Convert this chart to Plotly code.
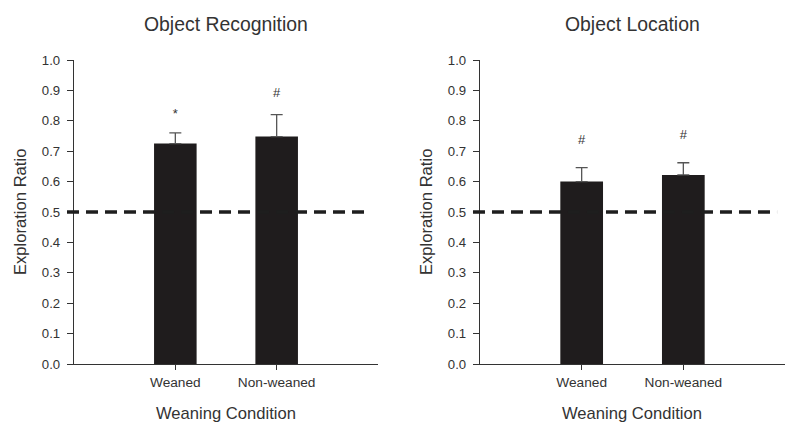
import plotly.graph_objects as go

categories = ["Weaned", "Non-weaned"]
recog_means = [0.725, 0.748]
recog_sem = [0.035, 0.072]
recog_marks = ["*", "#"]
recog_mark_y = [0.82, 0.89]

loc_means = [0.600, 0.622]
loc_sem = [0.046, 0.040]
loc_marks = ["#", "#"]
loc_mark_y = [0.735, 0.75]

chance_level = 0.5
yticks = [0.0, 0.1, 0.2, 0.3, 0.4, 0.5, 0.6, 0.7, 0.8, 0.9, 1.0]
panel_titles = ["Object Recognition", "Object Location"]
x_title = "Weaning Condition"
y_title = "Exploration Ratio"

FONT = "Liberation Sans, Arial, sans-serif"
TXT = "#333333"
BAR = "#1f1c1d"
H = 437

fig = go.Figure()

panels = [
    (recog_means, recog_sem, recog_marks, recog_mark_y, "x", "y"),
    (loc_means, loc_sem, loc_marks, loc_mark_y, "x2", "y2"),
]
xpos = [0, 1]
for means, sem, marks, marky, xa, ya in panels:
    fig.add_trace(go.Bar(
        x=xpos, y=means, width=0.42, marker=dict(color=BAR, line=dict(width=0)),
        error_y=dict(type="data", array=sem, arrayminus=[0] * len(sem), symmetric=False,
                     color="#555555", thickness=1.3, width=6),
        xaxis=xa, yaxis=ya, showlegend=False, hoverinfo="skip",
    ))
    fig.add_trace(go.Scatter(
        x=xpos, y=marky, mode="text", text=marks,
        textfont=dict(family=FONT, size=13, color=TXT),
        xaxis=xa, yaxis=ya, showlegend=False, cliponaxis=False, hoverinfo="skip",
    ))

domains = [[74 / 800, 378 / 800], [480 / 800, 785 / 800]]
ydom = [1 - 364 / H, 1 - 60 / H]

axis_common = dict(
    showline=True, linecolor="#333333", linewidth=1.3, ticks="outside",
    tickcolor="#333333", tickwidth=1.3, showgrid=False, zeroline=False,
    automargin=False,
)

for i, (xa, ya) in enumerate([("xaxis", "yaxis"), ("xaxis2", "yaxis2")]):
    anchor_x = "y" if i == 0 else "y2"
    anchor_y = "x" if i == 0 else "x2"
    fig.layout[xa] = dict(
        domain=domains[i], range=[-1, 2], anchor=anchor_x,
        tickvals=xpos, ticktext=categories, ticklen=5,
        tickfont=dict(family=FONT, size=13.7, color=TXT),
        **axis_common,
    )
    fig.layout[ya] = dict(
        domain=ydom, range=[0, 1], anchor=anchor_y,
        tickvals=yticks, ticktext=[f"{v:.1f}" for v in yticks], ticklen=6,
        tickfont=dict(family=FONT, size=13.2, color=TXT),
        ticklabelstandoff=4,
        **axis_common,
    )
    # chance-level dashed line
    fig.add_shape(
        type="line", xref=f"{xa.replace('axis', '')} domain", yref=ya.replace("axis", ""),
        x0=-0.023, x1=0.974, y0=chance_level, y1=chance_level,
        line=dict(color="#1e1e1e", width=3.5, dash="12px,7px"), layer="above",
    )
    cx = (domains[i][0] + domains[i][1]) / 2
    fig.add_annotation(
        text=panel_titles[i], xref="paper", yref="paper",
        x=cx, y=1 - 24 / H, xanchor="center", yanchor="middle", showarrow=False,
        font=dict(family=FONT, size=19.4, color=TXT),
    )
    fig.add_annotation(
        text=x_title, xref="paper", yref="paper",
        x=cx, y=1 - 413 / H, xanchor="center", yanchor="middle", showarrow=False,
        font=dict(family=FONT, size=16.6, color=TXT),
    )
    fig.add_annotation(
        text=y_title, xref="paper", yref="paper",
        x=(domains[i][0] * 800 - 54) / 800, y=1 - 212 / H,
        xanchor="center", yanchor="middle", showarrow=False, textangle=-90,
        font=dict(family=FONT, size=16.6, color=TXT),
    )

fig.update_layout(
    width=800, height=437, margin=dict(l=0, r=0, t=0, b=0),
    paper_bgcolor="white", plot_bgcolor="white",
    font=dict(family=FONT, color=TXT),
)

fig.write_html(
    "out.html",
    config={"displayModeBar": False},
    post_script="document.body.style.margin='0px';document.body.style.overflow='hidden';",
)
